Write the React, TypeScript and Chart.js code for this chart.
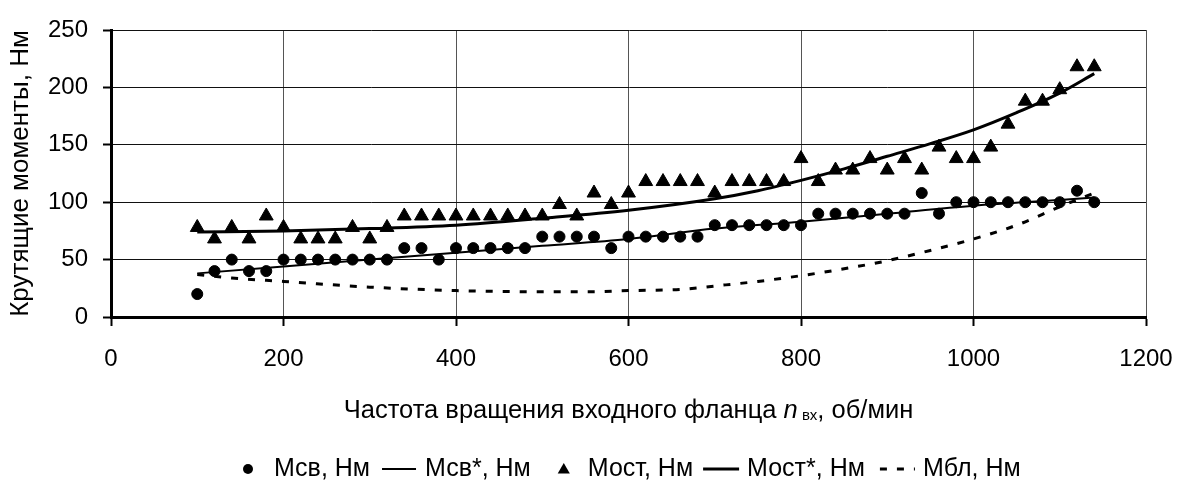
import React, { useEffect, useRef } from 'react';
import { Chart, registerables } from 'chart.js';

Chart.register(...registerables);

// ---- data ----
const rpm = [
  100, 120, 140, 160, 180, 200, 220, 240, 260, 280, 300, 320, 340, 360, 380, 400, 420, 440, 460, 480,
  500, 520, 540, 560, 580, 600, 620, 640, 660, 680, 700, 720, 740, 760, 780, 800, 820, 840, 860, 880,
  900, 920, 940, 960, 980, 1000, 1020, 1040, 1060, 1080, 1100, 1120, 1140,
];
const msv = [
  20, 40, 50, 40, 40, 50, 50, 50, 50, 50, 50, 50, 60, 60, 50, 60, 60, 60, 60, 60,
  70, 70, 70, 70, 60, 70, 70, 70, 70, 70, 80, 80, 80, 80, 80, 80, 90, 90, 90, 90,
  90, 90, 108, 90, 100, 100, 100, 100, 100, 100, 100, 110, 100,
];
const most = [
  78, 68, 78, 68, 88, 78, 68, 68, 68, 78, 68, 78, 88, 88, 88, 88, 88, 88, 88, 88,
  88, 98, 88, 108, 98, 108, 118, 118, 118, 118, 108, 118, 118, 118, 118, 138, 118, 128, 128, 138,
  128, 138, 128, 148, 138, 138, 148, 168, 188, 188, 198, 218, 218,
];
const msvTrendX = [100, 200, 300, 400, 500, 600, 700, 800, 900, 1000, 1100, 1140];
const msvTrend = [38, 44, 50, 56, 62, 68, 77, 83, 90, 97, 102, 104];
const mostTrendX = [100, 200, 300, 400, 500, 600, 700, 750, 800, 850, 900, 950, 1000, 1050, 1100, 1140];
const mostTrend = [74, 75, 77, 80, 86, 93, 103, 110, 119, 129, 140, 151, 163, 178, 195, 212];
const mblX = [100, 140, 200, 300, 400, 500, 560, 600, 660, 700, 750, 800, 850, 900, 950, 1000, 1050, 1100, 1140];
const mbl = [37, 34, 31, 26, 23, 22, 22, 23, 24, 27, 31, 36, 42, 49, 58, 68, 80, 96, 108];
const xTicks = [0, 200, 400, 600, 800, 1000, 1200];
const yTicks = [0, 50, 100, 150, 200, 250];
const seriesNames = ['Мсв, Нм', 'Мсв*, Нм', 'Мост, Нм', 'Мост*, Нм', 'Мбл, Нм'];
const yTitle = 'Крутящие моменты, Нм';
const xTitleParts = ['Частота вращения входного фланца ', 'n', ' вх', ', об/мин'];

const FAMILY = '"Liberation Sans", Arial, sans-serif';
const FS = 24;
const TITLE_FS = 25.5;
const YTITLE_FS = 26;
const LEGEND_FS = 25;

export default function App() {
  const ref = useRef<HTMLCanvasElement>(null);

  useEffect(() => {
    document.body.style.margin = '0';
    const pts = (xs: number[], ys: number[]) => xs.map((x, i) => ({ x, y: ys[i] }));

    // legend icon layout: [gap before icon, icon width, gap after icon]
    const legendIcons = [
      [0, 10, 21],
      [12, 34, 9],
      [25, 16, 16],
      [10, 36, 8],
      [15, 35, 8],
    ];

    const legendPlugin = {
      id: 'bottomLegend',
      afterDraw(chart: any) {
        const ctx = chart.ctx as CanvasRenderingContext2D;
        ctx.save();
        ctx.font = `${LEGEND_FS}px ${FAMILY}`;
        ctx.textBaseline = 'middle';
        ctx.textAlign = 'left';
        ctx.fillStyle = '#000';
        ctx.strokeStyle = '#000';
        const y = 469;
        let x = 243;
        chart.data.datasets.forEach((ds: any, i: number) => {
          const [gb, w, ga] = legendIcons[i];
          x += gb;
          if (ds.showLine === false) {
            if (ds.pointStyle === 'triangle') {
              const r = 7;
              const cx = x + w / 2;
              ctx.beginPath();
              ctx.moveTo(cx, y - r + 1);
              ctx.lineTo(cx + r * 0.866, y + r / 2 + 1);
              ctx.lineTo(cx - r * 0.866, y + r / 2 + 1);
              ctx.closePath();
              ctx.fill();
            } else {
              ctx.beginPath();
              ctx.arc(x + w / 2, y, 5, 0, Math.PI * 2);
              ctx.fill();
            }
          } else {
            ctx.lineWidth = ds.borderWidth;
            ctx.setLineDash(ds.borderDash || []);
            ctx.beginPath();
            ctx.moveTo(x, y);
            ctx.lineTo(x + w, y);
            ctx.stroke();
            ctx.setLineDash([]);
          }
          x += w + ga;
          ctx.fillText(ds.label, x, y);
          x += ctx.measureText(ds.label).width;
        });
        ctx.restore();
      },
    };

    const xTitlePlugin = {
      id: 'xTitle',
      afterDraw(chart: any) {
        const ctx = chart.ctx as CanvasRenderingContext2D;
        const area = chart.chartArea;
        ctx.save();
        ctx.fillStyle = '#000';
        ctx.textBaseline = 'alphabetic';
        ctx.textAlign = 'left';
        const fonts = [
          `${TITLE_FS}px ${FAMILY}`,
          `italic ${TITLE_FS}px ${FAMILY}`,
          `15px ${FAMILY}`,
          `${TITLE_FS}px ${FAMILY}`,
        ];
        const widths = xTitleParts.map((t, i) => {
          ctx.font = fonts[i];
          return ctx.measureText(t).width;
        });
        const total = widths.reduce((a, b) => a + b, 0);
        let x = (area.left + area.right) / 2 - total / 2;
        const base = 418;
        xTitleParts.forEach((t, i) => {
          ctx.font = fonts[i];
          ctx.fillText(t, x, i === 2 ? base + 2 : base);
          x += widths[i];
        });
        ctx.restore();
      },
    };

    const tickFont = { family: FAMILY, size: FS };
    const plain = (v: any) => String(v);

    const chart = new Chart(ref.current as HTMLCanvasElement, {
      type: 'scatter',
      data: {
        datasets: [
          {
            label: seriesNames[0],
            data: pts(rpm, msv),
            showLine: false,
            pointStyle: 'circle',
            pointRadius: 5.5,
            pointBorderWidth: 1,
            backgroundColor: '#000',
            borderColor: '#000',
          },
          {
            label: seriesNames[1],
            data: pts(msvTrendX, msvTrend),
            showLine: true,
            pointRadius: 0,
            borderWidth: 2,
            borderColor: '#000',
            backgroundColor: '#000',
            cubicInterpolationMode: 'monotone',
          },
          {
            label: seriesNames[2],
            data: pts(rpm, most),
            showLine: false,
            pointStyle: 'triangle',
            pointRadius: 8,
            pointBorderWidth: 1,
            backgroundColor: '#000',
            borderColor: '#000',
          },
          {
            label: seriesNames[3],
            data: pts(mostTrendX, mostTrend),
            showLine: true,
            pointRadius: 0,
            borderWidth: 3,
            borderColor: '#000',
            backgroundColor: '#000',
            cubicInterpolationMode: 'monotone',
          },
          {
            label: seriesNames[4],
            data: pts(mblX, mbl),
            showLine: true,
            pointRadius: 0,
            borderWidth: 3,
            borderDash: [7, 10],
            borderColor: '#000',
            backgroundColor: '#000',
            cubicInterpolationMode: 'monotone',
          },
        ] as any,
      },
      plugins: [legendPlugin, xTitlePlugin],
      options: {
        animation: false,
        responsive: false,
        maintainAspectRatio: false,
        layout: { padding: { top: 30, right: 31, left: 0, bottom: 0 } },
        plugins: {
          legend: { display: false },
          tooltip: { enabled: false },
        },
        scales: {
          x: {
            type: 'linear',
            min: 0,
            max: 1200,
            afterBuildTicks: (s: any) => {
              s.ticks = xTicks.map((v) => ({ value: v }));
            },
            afterFit: (s: any) => {
              s.height = 167;
              s.paddingLeft = 0;
              s.paddingRight = 0;
            },
            ticks: { font: tickFont, color: '#000', padding: 19, maxRotation: 0, autoSkip: false, callback: plain },
            grid: { color: '#555', lineWidth: 1, tickLength: 9, tickColor: '#000', tickWidth: 2 },
            border: { color: '#000', width: 3 },
          },
          y: {
            type: 'linear',
            min: 0,
            max: 250,
            afterBuildTicks: (s: any) => {
              s.ticks = yTicks.map((v) => ({ value: v }));
            },
            afterFit: (s: any) => {
              s.width = 111;
              s.paddingTop = 0;
              s.paddingBottom = 0;
            },
            ticks: { font: tickFont, color: '#000', padding: 15, autoSkip: false, callback: plain },
            grid: { color: '#111', lineWidth: 1, tickLength: 8, tickColor: '#000', tickWidth: 2 },
            border: { color: '#000', width: 3 },
            title: {
              display: true,
              text: yTitle,
              font: { family: FAMILY, size: YTITLE_FS },
              color: '#000',
              padding: { top: 5, bottom: 0 },
            },
          },
        },
      } as any,
    });
    return () => chart.destroy();
  }, []);

  return (
    <div style={{ width: 1177, height: 484 }}>
      <canvas ref={ref} width={1177} height={484} style={{ display: 'block' }} />
    </div>
  );
}
